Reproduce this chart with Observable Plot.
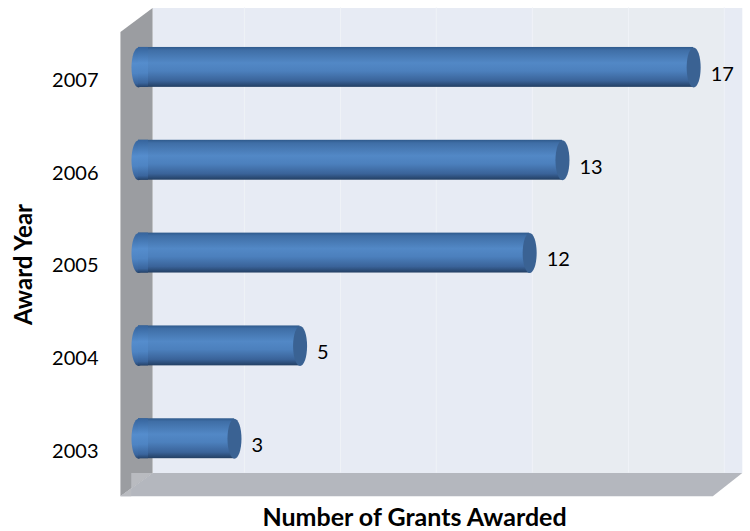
<!DOCTYPE html>
<html><head><meta charset="utf-8">
<script src="https://cdn.jsdelivr.net/npm/d3@7"></script>
<script src="https://cdn.jsdelivr.net/npm/@observablehq/plot@0.6"></script>
<style>html,body{margin:0;padding:0;background:#fff}svg{display:block}</style>
</head><body><div id="chart"></div>
<script>
const years = [2007, 2006, 2005, 2004, 2003];
const grants = [17, 13, 12, 5, 3];
const gridValues = [3.12, 6.05, 8.97, 11.9, 14.83, 17.75];
const rows = years.map((year, i) => ({year, grants: grants[i]}));

// 3D box faces, in data units
const backWall = [[0.32,2007.63],[18.3,2007.63],[18.3,2002.62],[0.32,2002.62]];
const shadedWall = [[11.9,2007.63],[17.75,2007.63],[17.75,2002.62],[11.9,2002.62]];
const sideWall = [[-0.66,2007.37],[0.32,2007.63],[0.32,2002.62],[-0.66,2002.37]];
const floor = [[-0.66,2002.37],[0.32,2002.62],[18.3,2002.62],[17.4,2002.37]];
const floorEnd = [[-0.66,2002.37],[0.32,2002.62],[-0.33,2002.62],[-0.33,2002.37]];

const face = (pts, fill) => Plot.line(pts, {x: d => d[0], y: d => d[1], fill, stroke: "none", curve: "linear-closed"});

// Elliptical cap drawn by the dot mark as a custom symbol
const ellipse = (rx, ry) => ({draw(ctx) {
  const k = 0.5523;
  ctx.moveTo(-rx, 0);
  ctx.bezierCurveTo(-rx, -k*ry, -k*rx, -ry, 0, -ry);
  ctx.bezierCurveTo(k*rx, -ry, rx, -k*ry, rx, 0);
  ctx.bezierCurveTo(rx, k*ry, k*rx, ry, 0, ry);
  ctx.bezierCurveTo(-k*rx, ry, -rx, k*ry, -rx, 0);
  ctx.closePath();
}});

const defs = () => {
  const ns = "http://www.w3.org/2000/svg";
  const d = document.createElementNS(ns, "defs");
  const mk = (id, stops) => {
    const g = document.createElementNS(ns, "linearGradient");
    g.setAttribute("id", id); g.setAttribute("x1", 0); g.setAttribute("x2", 0); g.setAttribute("y1", 0); g.setAttribute("y2", 1);
    stops.forEach(([o, c]) => {
      const s = document.createElementNS(ns, "stop");
      s.setAttribute("offset", o); s.setAttribute("stop-color", c); g.appendChild(s);
    });
    d.appendChild(g);
  };
  mk("tube", [[0,"#2f5a8c"],[0.08,"#3f6ea6"],[0.4,"#5288c6"],[0.6,"#4c80bd"],[0.85,"#3a6399"],[1,"#233f63"]]);
  mk("capL", [[0,"#36649c"],[0.4,"#558dcd"],[0.65,"#4e84c3"],[0.9,"#3a659d"],[1,"#26446c"]]);
  return d;
};

const plot = Plot.plot({
  width: 750, height: 531,
  marginLeft: 104, marginRight: 0, marginTop: 0, marginBottom: 0,
  x: {domain: [-1.146, 18.55]},
  y: {domain: [2001.99, 2007.71]},
  style: {fontFamily: "Lato, sans-serif", background: "#fff"},
  marks: [
    defs,
    face(backWall, "#e7ebf4"),
    face(shadedWall, "#e8ecf1"),
    face(sideWall, "#9b9da1"),
    face(floor, "#b4b7be"),
    face(floorEnd, "#b9bbc0"),
    Plot.ruleX(gridValues, {y1: 2002.62, y2: 2007.63, stroke: "#eff2f7", strokeWidth: 1}),
    Plot.rect(rows, {x1: 0, x2: "grants", y1: d => d.year - 0.215, y2: d => d.year + 0.215, fill: "url(#tube)", insetLeft: -3.6, insetRight: 6, dy: 1}),
    Plot.dot(rows, {x: 0, y: "year", dx: -3.6, dy: 1, symbol: ellipse(7, 20), fill: "url(#capL)", r: 5}),
    Plot.rect(rows, {x1: 0, x2: 0, y1: d => d.year - 0.215, y2: d => d.year + 0.215, fill: "url(#capL)", insetLeft: -3.6, insetRight: -6.4, dy: 1}),
    Plot.dot(rows, {x: "grants", y: "year", dx: -6, dy: 1, symbol: ellipse(7, 20), fill: "#3a6293", r: 5}),
    Plot.text(rows, {x: "grants", y: "year", text: "grants", dx: 11, dy: 8, textAnchor: "start", fontSize: 20, fill: "#000"}),
    Plot.axisY({ticks: years, tickFormat: "d", tickSize: 0, tickPadding: 6, label: null, dy: 14, fontSize: 20, color: "#000"}),
    Plot.axisX({ticks: [], label: null}),
    Plot.text(["Number of Grants Awarded"], {frameAnchor: "bottom", textAnchor: "middle", lineAnchor: "bottom", dx: -13, dy: -6, fontSize: 25, fontWeight: "bold", fill: "#000"}),
    Plot.text(["Award Year"], {frameAnchor: "left", textAnchor: "middle", dx: -80, dy: -1.5, rotate: -90, fontSize: 24, fontWeight: "bold", fill: "#000"})
  ]
});
document.getElementById("chart").appendChild(plot);
</script></body></html>
